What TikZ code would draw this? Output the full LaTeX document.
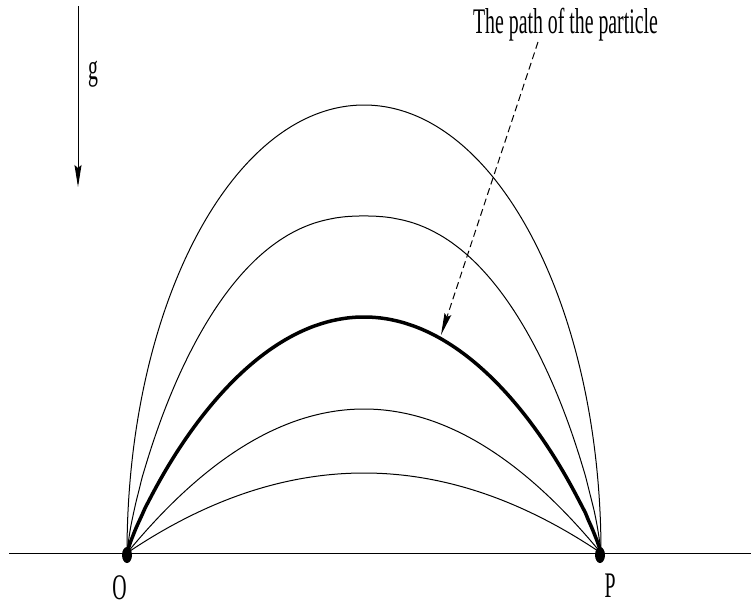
\documentclass[tikz,border=0pt]{standalone}
\usepackage{fontspec}
\setmainfont{Liberation Serif}
\usetikzlibrary{arrows.meta,shapes.geometric}
\begin{document}
\begin{tikzpicture}[x=1pt,y=-1pt,
  lbl/.style={inner sep=0pt, font=\fontsize{36}{40}\selectfont},
  thincurve/.style={line width=1pt},
  thickcurve/.style={line width=3.5pt},
  ground/.style={line width=1.5pt},
  arr/.style={line width=1pt, -{Stealth[length=22pt,width=7pt,inset=3pt]}},
  dashedarr/.style={arr, dash pattern=on 7pt off 4pt},
  dotnode/.style={ellipse, fill=black, minimum width=10pt, minimum height=16pt, inner sep=0pt},
  traj/.style={domain=-0.9995:0.9995, samples=160, variable=\t, smooth}
]
\useasboundingbox (0,0) rectangle (751,606);

% ground
\coordinate (gl) at (9,553.5);
\coordinate (gr) at (751,553.5);
\draw[ground] (gl) -- (gr);

\coordinate (o) at (127,553);
\coordinate (p) at (601,553);

% trajectories  h(u) = H (1-|u|^p)^(1/q)
\draw[thincurve] (o) arc[start angle=180, end angle=0, x radius=237pt, y radius=448pt];
\draw[thincurve] (o) -- plot[traj] ({364+237*\t}, {553-337*(1-(abs(\t))^2.3)^0.769}) -- (p);
\draw[thickcurve] (o) -- plot[traj] ({364+237*\t}, {553-236*(1-\t*\t)^0.87}) -- (p);
\draw[thincurve] (o) -- plot[traj] ({364+237*\t}, {553-144*(1-\t*\t)}) -- (p);
\draw[thincurve] (o) -- plot[traj] ({364+237*\t}, {553-80*(1-\t*\t)}) -- (p);

% end points
\node[dotnode] (O) at (127,555) {};
\node[dotnode] (P) at (600,555) {};

% labels
\node[lbl, anchor=base] (Olab) at (119.5,599) {\scalebox{0.55}[1]{O}};
\node[lbl, anchor=base] (Plab) at (610,597) {\scalebox{0.55}[1]{P}};

% gravity
\coordinate (gs) at (78,6);
\coordinate (ge) at (78,187);
\draw[arr] (gs) -- (ge);
\node[lbl, anchor=base] (glab) at (93,79) {\scalebox{0.55}[1]{g}};

% annotation
\node[lbl, anchor=base] (title) at (565.5,33) {\scalebox{0.55}[1]{The path of the particle}};
\coordinate (ds) at (538,42);
\coordinate (de) at (441,335);
\draw[dashedarr] (ds) -- (de);
\end{tikzpicture}
\end{document}
